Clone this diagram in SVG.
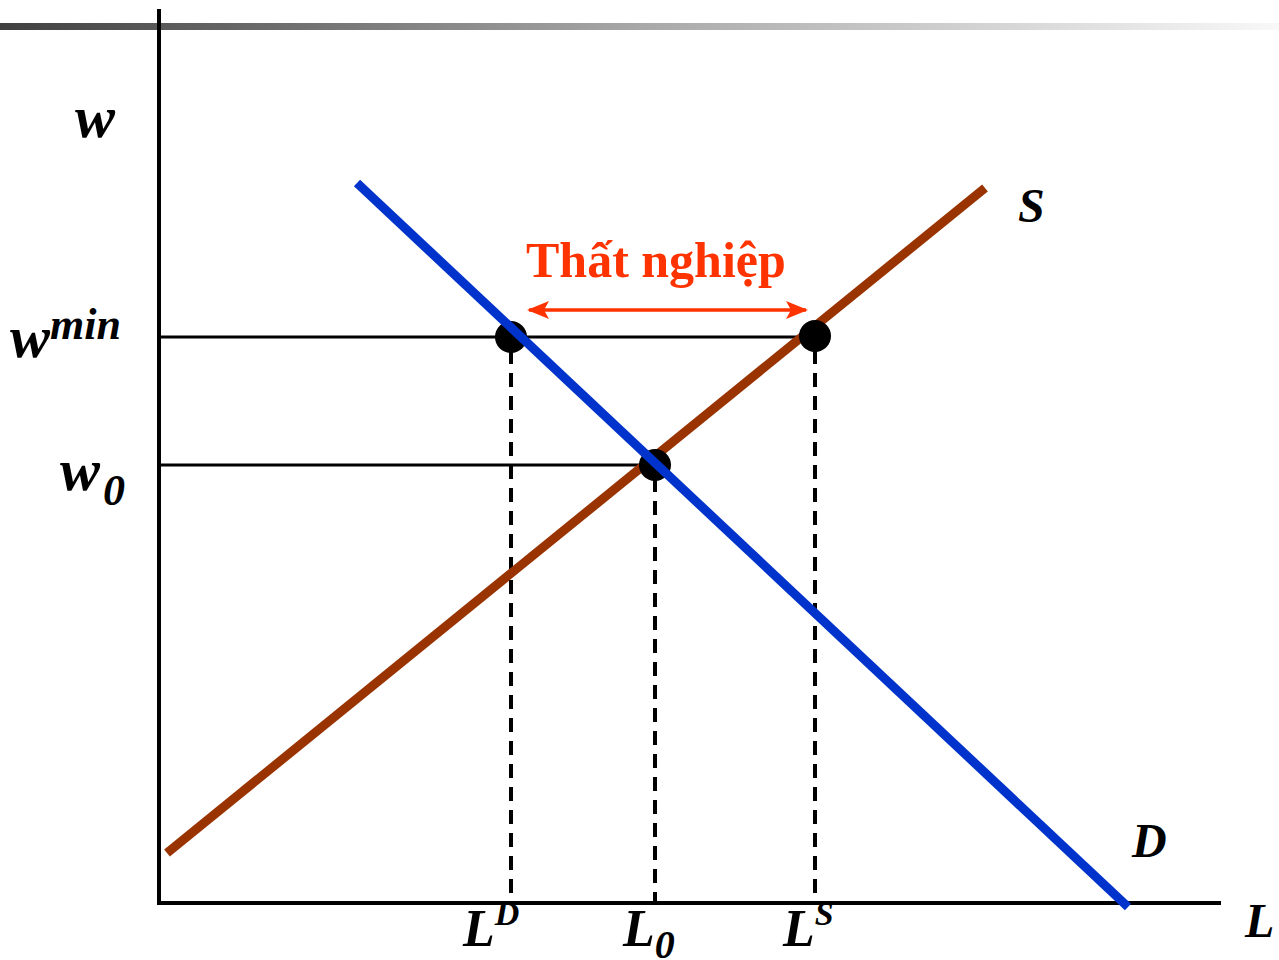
<svg xmlns="http://www.w3.org/2000/svg" width="1279" height="960" viewBox="0 0 1279 960">
<defs>
<linearGradient id="bar" x1="0" y1="0" x2="1" y2="0">
<stop offset="0" stop-color="#404040"/>
<stop offset="0.5" stop-color="#a8a8a8"/>
<stop offset="1" stop-color="#f8f8f8"/>
</linearGradient>
<marker id="ah" viewBox="0 0 22 18" refX="20" refY="9" markerWidth="22" markerHeight="18" orient="auto-start-reverse" markerUnits="userSpaceOnUse">
<path d="M0,0 L22,9 L0,18 L5,9 Z" fill="#ff3300"/>
</marker>
<style>
.lbl{font-family:"Liberation Serif","Times New Roman",serif;font-weight:bold;font-style:italic;fill:#000}
.axis{stroke:#000;stroke-width:4;fill:none}
.hl{stroke:#000;stroke-width:3;fill:none}
.dash{stroke:#000;stroke-width:4;stroke-dasharray:14 9;fill:none}
.dot{fill:#000}
</style>
</defs>
<rect x="0" y="23" width="1279" height="7" fill="url(#bar)"/>
<g id="axes">
<line class="axis" x1="159" y1="9" x2="159" y2="905"/>
<line class="axis" x1="157" y1="903" x2="1221" y2="903"/>
</g>
<g id="connectors">
<line class="hl" x1="159" y1="337" x2="815" y2="337"/>
<line class="hl" x1="159" y1="465" x2="654" y2="465"/>
<line class="dash" x1="511" y1="350" x2="511" y2="903"/>
<line class="dash" x1="655" y1="478" x2="655" y2="903"/>
<line class="dash" x1="815" y1="350" x2="815" y2="903"/>
<line x1="529" y1="310" x2="806" y2="310" stroke="#ff3300" stroke-width="3.5" marker-start="url(#ah)" marker-end="url(#ah)"/>
</g>
<g id="curve-S">
<line x1="167" y1="853" x2="985" y2="188" stroke="#993300" stroke-width="9"/>
</g>
<g id="point-LS"><circle class="dot" cx="815" cy="336" r="16"/></g>
<g id="point-LD"><circle class="dot" cx="511" cy="337" r="16"/></g>
<g id="point-L0"><circle class="dot" cx="655" cy="465" r="16"/></g>
<g id="curve-D">
<line x1="357" y1="183" x2="1128" y2="907" stroke="#0033cc" stroke-width="9"/>
</g>
<g id="labels">
<text class="lbl" x="75" y="137" font-size="60">w</text>
<text class="lbl" x="10" y="357" font-size="60">w<tspan font-size="44" dy="-18">min</tspan></text>
<text class="lbl" x="60" y="490" font-size="60">w<tspan font-size="44" dx="3" dy="15">0</tspan></text>
<text class="lbl" x="1018" y="222" font-size="48">S</text>
<text class="lbl" x="1132" y="857" font-size="48">D</text>
<text class="lbl" x="1245" y="937" font-size="48">L</text>
<text class="lbl" x="463" y="946" font-size="52">L<tspan font-size="34" dy="-21">D</tspan></text>
<text class="lbl" x="623" y="946" font-size="52">L<tspan font-size="40" dy="12">0</tspan></text>
<text class="lbl" x="783" y="946" font-size="52">L<tspan font-size="34" dy="-21">S</tspan></text>
<text x="526" y="277" font-family="'Liberation Serif','Times New Roman',serif" font-weight="bold" font-size="50" fill="#ff3300">Thất nghiệp</text>
</g>
</svg>
